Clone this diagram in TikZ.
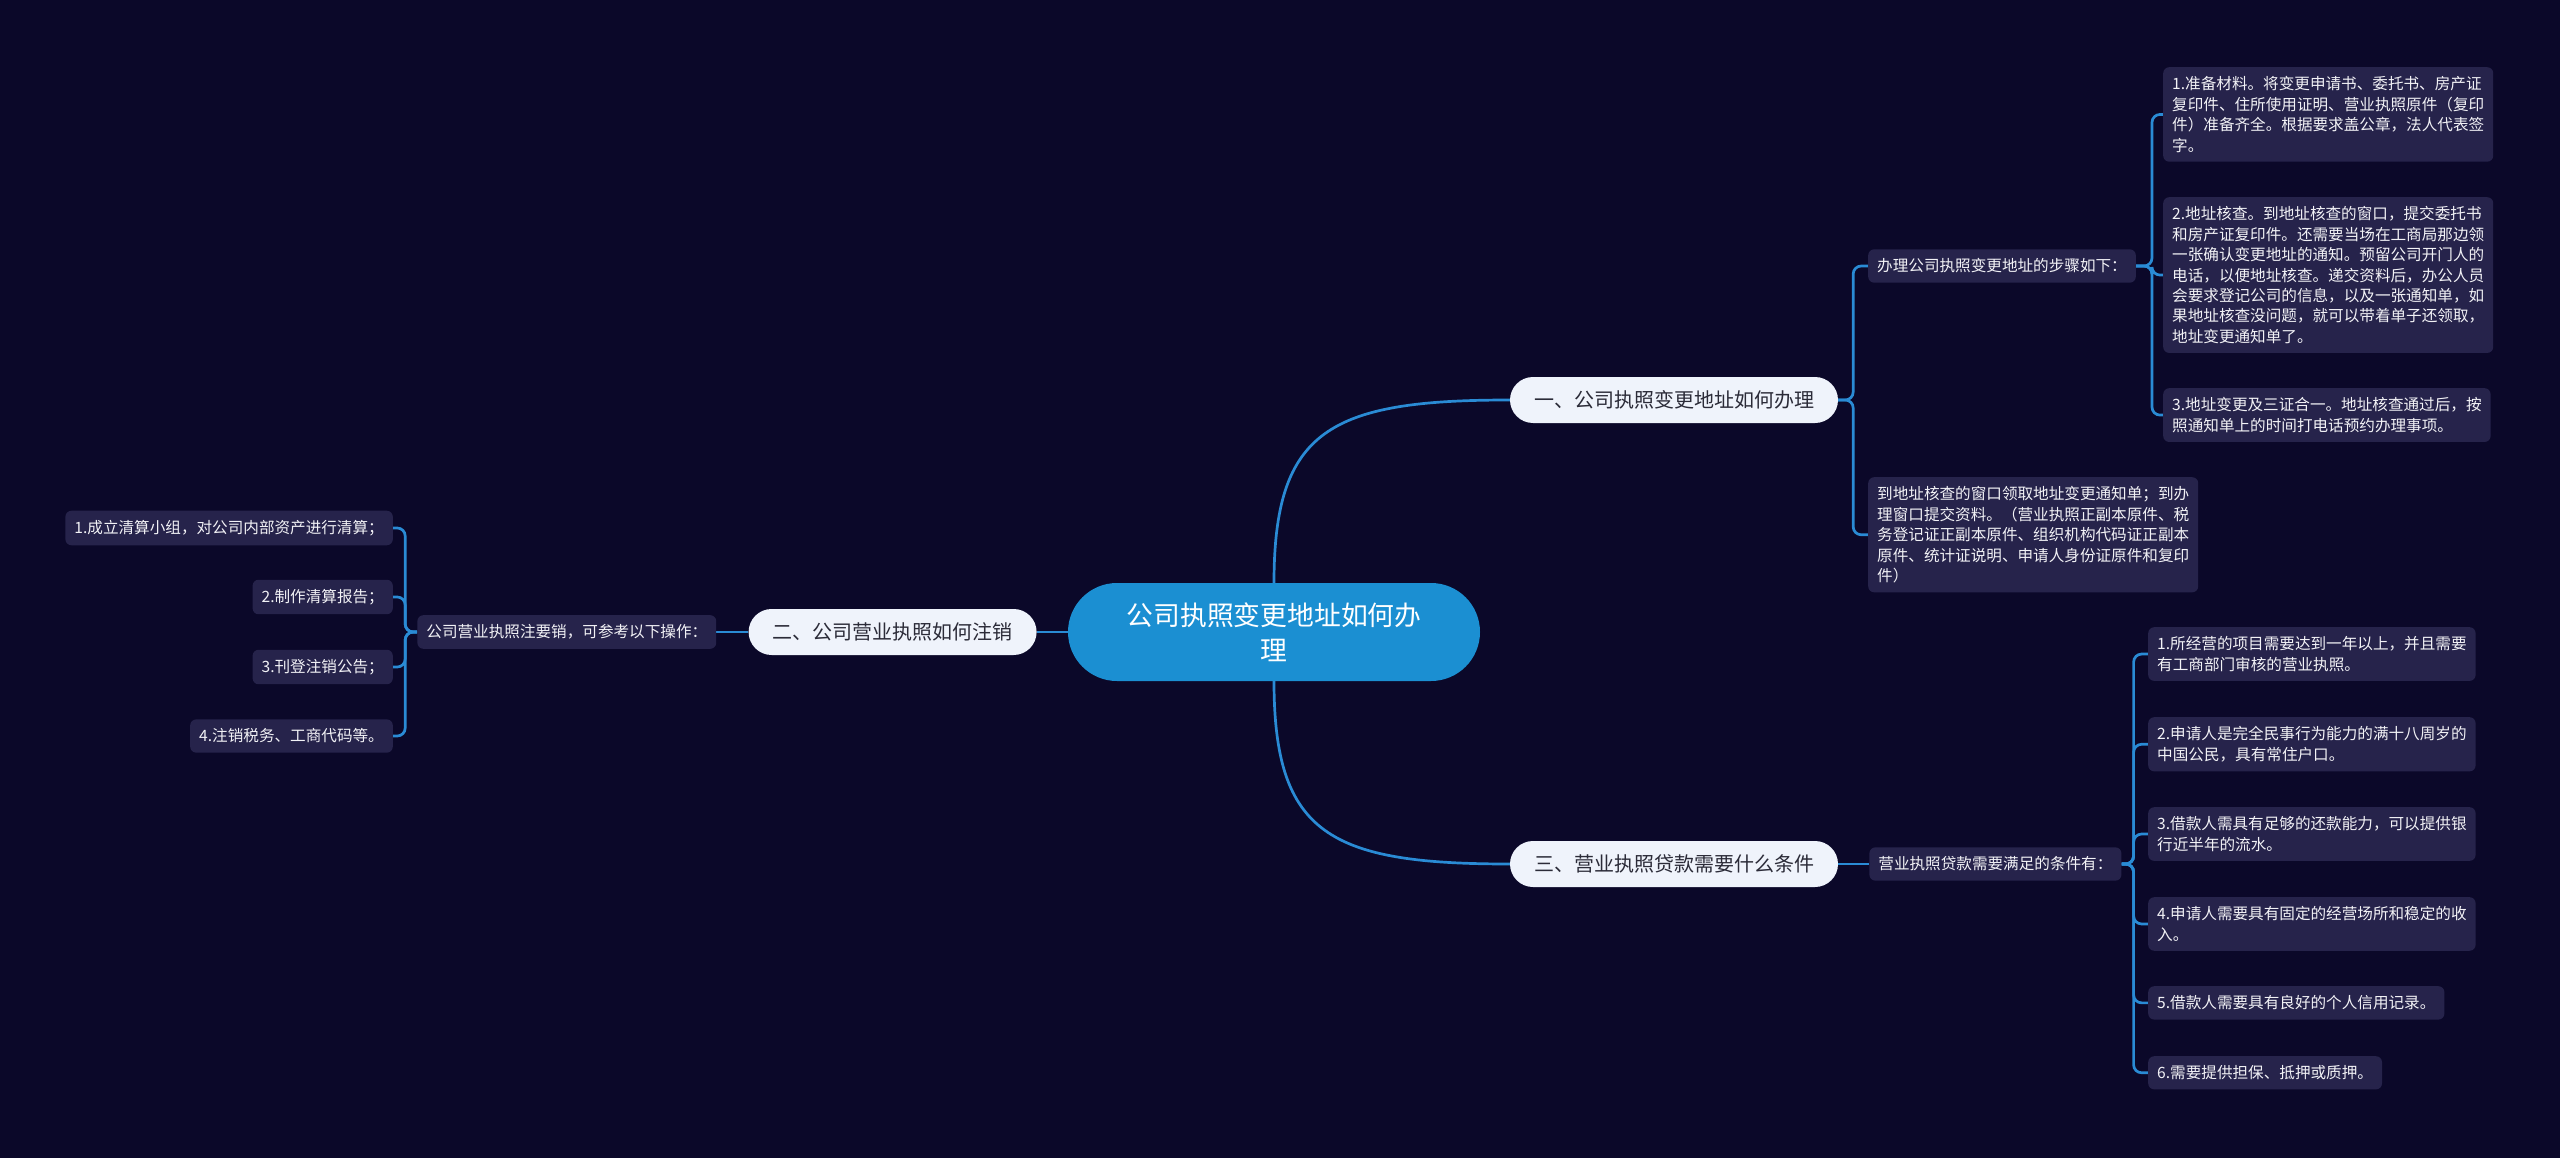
\documentclass[tikz,border=0pt]{standalone}
\usepackage{fontspec}
\setmainfont{Noto Sans CJK SC}
\usetikzlibrary{positioning,backgrounds}
\definecolor{cBg}{HTML}{0B0829}
\definecolor{cRoot}{HTML}{1B8FD2}
\definecolor{cLink}{HTML}{2A8BD5}
\definecolor{cMain}{HTML}{EFF3FB}
\definecolor{cLeaf}{HTML}{26234B}
\definecolor{cInk}{HTML}{2B2B38}
\definecolor{cText}{HTML}{F2F2F6}
\tikzset{
  rootbox/.style={rounded corners=49pt,fill=cRoot,text=white,align=center,
                  minimum width=412pt,minimum height=98pt,
                  font=\fontsize{26.8}{35}\selectfont},
  mainbox/.style={rounded corners=23pt,fill=cMain,text=cInk,
                  inner xsep=24pt,minimum height=46pt,
                  font=\fontsize{20}{24}\selectfont},
  leafbox/.style={rounded corners=6pt,fill=cLeaf,text=cText,align=left,
                  inner xsep=9pt,inner ysep=9.4pt,
                  font=\fontsize{15.6}{20.4}\selectfont},
  link/.style={draw=cLink,line width=2.7pt,rounded corners=8pt},
}
\begin{document}
\begin{tikzpicture}[x=1pt,y=-1pt]
\useasboundingbox (0,0) rectangle (2560,1158);
\node[rootbox] (root) at (1274,632) {公司执照变更地址如何办\\理};
\node[mainbox] (b1) at (1674,400) {一、公司执照变更地址如何办理};
\node[mainbox,left=31pt of root] (b2) {二、公司营业执照如何注销};
\node[mainbox] (b3) at (1674,864) {三、营业执照贷款需要什么条件};

\node[leafbox,anchor=west] (s1) at (1868,266) {办理公司执照变更地址的步骤如下：};
\node[leafbox,anchor=north west] (s2) at (1868,477) {到地址核查的窗口领取地址变更通知单；到办\\理窗口提交资料。（营业执照正副本原件、税\\务登记证正副本原件、组织机构代码证正副本\\原件、统计证说明、申请人身份证原件和复印\\件）};
\node[leafbox,anchor=north west] (l1) at (2163,67) {1.准备材料。将变更申请书、委托书、房产证\\复印件、住所使用证明、营业执照原件（复印\\件）准备齐全。根据要求盖公章，法人代表签\\字。};
\node[leafbox,anchor=north west] (l2) at (2163,197) {2.地址核查。到地址核查的窗口，提交委托书\\和房产证复印件。还需要当场在工商局那边领\\一张确认变更地址的通知。预留公司开门人的\\电话，以便地址核查。递交资料后，办公人员\\会要求登记公司的信息，以及一张通知单，如\\果地址核查没问题，就可以带着单子还领取，\\地址变更通知单了。};
\node[leafbox,anchor=north west] (l3) at (2163,388) {3.地址变更及三证合一。地址核查通过后，按\\照通知单上的时间打电话预约办理事项。};

\node[leafbox,left=32pt of b2] (s3) {公司营业执照注要销，可参考以下操作：};
\node[leafbox,anchor=east] (c1) at (393,528) {1.成立清算小组，对公司内部资产进行清算；};
\node[leafbox,anchor=east] (c2) at (393,597) {2.制作清算报告；};
\node[leafbox,anchor=east] (c3) at (393,667) {3.刊登注销公告；};
\node[leafbox,anchor=east] (c4) at (393,736) {4.注销税务、工商代码等。};

\node[leafbox,right=31pt of b3] (s4) {营业执照贷款需要满足的条件有：};
\node[leafbox,anchor=north west] (r1) at (2148,627) {1.所经营的项目需要达到一年以上，并且需要\\有工商部门审核的营业执照。};
\node[leafbox,anchor=north west] (r2) at (2148,717) {2.申请人是完全民事行为能力的满十八周岁的\\中国公民，具有常住户口。};
\node[leafbox,anchor=north west] (r3) at (2148,807) {3.借款人需具有足够的还款能力，可以提供银\\行近半年的流水。};
\node[leafbox,anchor=north west] (r4) at (2148,897) {4.申请人需要具有固定的经营场所和稳定的收\\入。};
\node[leafbox,anchor=north west] (r5) at (2148,986) {5.借款人需要具有良好的个人信用记录。};
\node[leafbox,anchor=north west] (r6) at (2148,1056) {6.需要提供担保、抵押或质押。};

\begin{scope}[on background layer]
\fill[cBg] (0,0) rectangle (2560,1158);
\draw[link] (root.north) .. controls +(0,-153) and +(-180,0) .. (b1.west);
\draw[link] (root.south) .. controls +(0,153) and +(-180,0) .. (b3.west);
\draw[link] (root.west) -- (b2.east);
\draw[link] (b1.east) -- ++(15,0) |- (s1.west);
\draw[link] (b1.east) -- ++(15,0) |- (s2.west);
\draw[link] (s1.east) -- ++(16,0) |- (l1.west);
\draw[link] (s1.east) -- ++(16,0) |- (l2.west);
\draw[link] (s1.east) -- ++(16,0) |- (l3.west);
\draw[link] (b2.west) -- (s3.east);
\draw[link] (s3.west) -- ++(-12,0) |- (c1.east);
\draw[link] (s3.west) -- ++(-12,0) |- (c2.east);
\draw[link] (s3.west) -- ++(-12,0) |- (c3.east);
\draw[link] (s3.west) -- ++(-12,0) |- (c4.east);
\draw[link] (b3.east) -- (s4.west);
\draw[link] (s4.east) -- ++(12,0) |- (r1.west);
\draw[link] (s4.east) -- ++(12,0) |- (r2.west);
\draw[link] (s4.east) -- ++(12,0) |- (r3.west);
\draw[link] (s4.east) -- ++(12,0) |- (r4.west);
\draw[link] (s4.east) -- ++(12,0) |- (r5.west);
\draw[link] (s4.east) -- ++(12,0) |- (r6.west);
\end{scope}
\end{tikzpicture}
\end{document}
